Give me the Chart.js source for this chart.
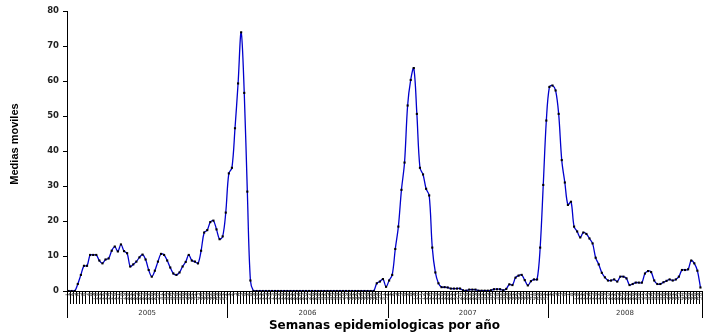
<!DOCTYPE html>
<html>
<head>
<meta charset="utf-8">
<script src="https://cdn.jsdelivr.net/npm/chart.js@4/dist/chart.umd.min.js"></script>
<style>
  html, body { margin: 0; padding: 0; background: #fff; }
  canvas { display: block; }
</style>
</head>
<body>
<canvas id="c" width="712" height="335"></canvas>
<script>
// Weekly moving averages per epidemiological year
const years = ['2005', '2006', '2007', '2008'];

const values2005 = [0, 0, 0, 2.0, 4.6, 7.2, 7.2, 10.3, 10.3, 10.3, 8.7, 7.9, 9.0, 9.3, 11.5, 12.7,
  11.3, 13.3, 11.4, 10.8, 7.0, 7.6, 8.4, 9.6, 10.4, 9.0, 6.0, 4.1, 5.8, 8.4, 10.6, 10.3,
  8.7, 6.7, 5.0, 4.6, 5.3, 7.0, 8.3, 10.3, 8.7, 8.4, 7.9, 11.5, 16.7, 17.4, 19.7, 20.1,
  17.6, 14.8, 15.6, 22.4];

const values2006 = [33.6, 35.2, 46.5, 59.3, 73.9, 56.6, 28.4, 3.0,
  0, 0, 0, 0, 0, 0, 0, 0, 0, 0, 0, 0, 0, 0, 0, 0, 0, 0, 0, 0,
  0, 0, 0, 0, 0, 0, 0, 0, 0, 0, 0, 0, 0, 0, 0, 0, 0, 0, 0, 0,
  2.2, 2.7, 3.4, 1.2];

const values2007 = [3.0, 4.6, 12.0, 18.4, 28.9, 36.7, 53.0, 60.3, 63.7, 50.6, 35.2, 33.3,
  29.2, 27.3, 12.4, 5.3, 2.2, 1.1, 1.1, 1.0, 0.7, 0.7, 0.7, 0.7, 0.2, 0.1, 0.4, 0.4,
  0.4, 0.1, 0.1, 0.1, 0.1, 0.2, 0.5, 0.5, 0.5, 0.2, 0.6, 1.9, 1.7, 3.8, 4.4, 4.6,
  3.1, 1.6, 2.8, 3.3, 3.3, 12.4, 30.3, 48.7];

const values2008 = [58.3, 58.7, 57.3, 50.6, 37.4, 31.0, 24.6, 25.5, 18.4, 17.0, 15.3, 16.7,
  16.3, 15.0, 13.6, 9.5, 7.6, 5.2, 3.9, 3.0, 3.0, 3.3, 2.7, 4.1, 4.1, 3.6, 1.7, 2.0,
  2.4, 2.4, 2.4, 5.0, 5.7, 5.4, 3.0, 2.0, 2.0, 2.5, 2.9, 3.3, 3.0, 3.3, 4.1, 6.0,
  6.0, 6.2, 8.7, 7.9, 5.8, 1.0];

const yearValues = [values2005, values2006, values2007, values2008];
const yTicks = [0, 10, 20, 30, 40, 50, 60, 70, 80];

const yTitle = 'Medias moviles';
const xTitle = 'Semanas epidemiologicas por año';

// Category labels: week number inside each year
const labels = [];
const weekNumbers = [];
const yearStart = [];
const series = [];
yearValues.forEach((vals, yi) => {
  yearStart.push(labels.length);
  vals.forEach((v, wi) => {
    labels.push(years[yi] + '-' + (wi + 1));
    weekNumbers.push(String(wi + 1));
    series.push(v);
  });
});
yearStart.push(labels.length);

// Week labels, comb ticks, year separators and axis titles
const axisDecor = {
  id: 'axisDecor',
  afterDraw(chart) {
    const ctx = chart.ctx;
    const xs = chart.scales.x;
    const ys = chart.scales.y;
    const n = labels.length;
    const left = xs.left, right = xs.right;
    const step = (right - left) / n;
    const base = ys.getPixelForValue(0);

    ctx.save();
    // tick marks between weeks
    ctx.strokeStyle = '#000';
    ctx.lineWidth = 1;
    ctx.beginPath();
    for (let k = 0; k <= n; k++) {
      const x = Math.round(left + k * step) + 0.5;
      ctx.moveTo(x, base);
      ctx.lineTo(x, base + 13);
    }
    ctx.stroke();
    // tiny rotated week numbers over the comb
    ctx.fillStyle = '#555';
    ctx.font = '6px "DejaVu Sans"';
    ctx.textAlign = 'right';
    ctx.textBaseline = 'middle';
    for (let i = 0; i < n; i++) {
      const x = xs.getPixelForValue(i);
      ctx.save();
      ctx.translate(x, base + 1.5);
      ctx.rotate(-Math.PI / 2);
      ctx.fillText(weekNumbers[i], 0, 0);
      ctx.restore();
    }
    // year separators
    ctx.beginPath();
    yearStart.forEach(k => {
      const x = Math.round(left + k * step) + 0.5;
      ctx.moveTo(x, base);
      ctx.lineTo(x, base + 27);
    });
    ctx.stroke();
    // year labels
    ctx.fillStyle = '#333';
    ctx.font = '7px "DejaVu Sans"';
    ctx.textAlign = 'center';
    ctx.textBaseline = 'middle';
    for (let y = 0; y < years.length; y++) {
      const x = left + (yearStart[y] + yearStart[y + 1]) / 2 * step;
      ctx.fillText(years[y], x, base + 22.5);
    }
    // x axis title
    ctx.fillStyle = '#000';
    ctx.font = 'bold 12px "DejaVu Sans"';
    ctx.fillText(xTitle, (left + right) / 2, 326);
    // y axis title
    ctx.save();
    ctx.translate(15, 144);
    ctx.rotate(-Math.PI / 2);
    ctx.font = 'bold 11px "Liberation Sans"';
    ctx.fillText(yTitle, 0, 0);
    ctx.restore();
    ctx.restore();
  }
};

new Chart(document.getElementById('c'), {
  type: 'line',
  data: {
    labels: labels,
    datasets: [{
      data: series,
      borderColor: '#0000CC',
      borderWidth: 1.3,
      tension: 0.35,
      pointStyle: 'rect',
      pointRadius: 1.5,
      pointBackgroundColor: '#000',
      pointBorderColor: '#000',
      pointBorderWidth: 0,
      fill: false
    }]
  },
  options: {
    responsive: false,
    animation: false,
    layout: { padding: { top: 11, right: 10, left: 0, bottom: 0 } },
    plugins: { legend: { display: false }, tooltip: { enabled: false } },
    scales: {
      x: {
        type: 'category',
        offset: true,
        grid: { display: false },
        border: { display: true, color: '#000', width: 1 },
        ticks: { display: false },
        afterFit(scale) { scale.height = 44; }
      },
      y: {
        min: 0,
        max: 80,
        afterBuildTicks(scale) { scale.ticks = yTicks.map(v => ({ value: v })); },
        grid: { drawOnChartArea: false, drawTicks: true, tickLength: 4, color: '#000' },
        border: { display: true, color: '#000', width: 1 },
        ticks: {
          color: '#222',
          padding: 4,
          font: { family: 'DejaVu Sans', size: 8.5, weight: 'bold' }
        },
        afterFit(scale) { scale.width = 67; }
      }
    }
  },
  plugins: [axisDecor]
});
</script>
</body>
</html>
